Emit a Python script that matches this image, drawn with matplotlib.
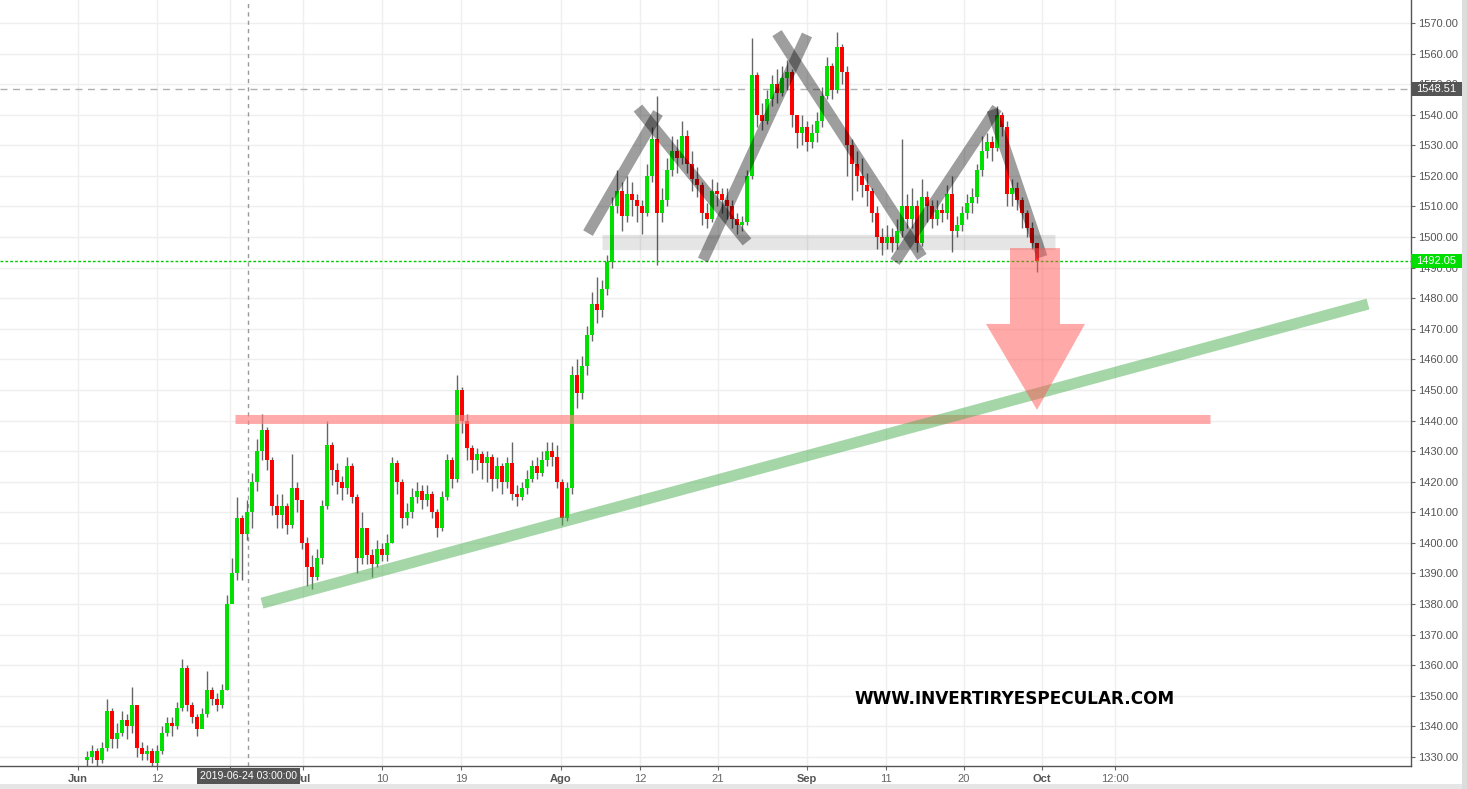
import numpy as np
import matplotlib
matplotlib.use("Agg")
import matplotlib.pyplot as plt
from matplotlib.patches import Polygon, Rectangle
import matplotlib.transforms as mtransforms

# ---------------- data ----------------
first_open = 1329.0
close = [1330, 1332, 1329, 1333, 1345, 1336, 1338, 1342, 1340, 1347,
         1333, 1331, 1332, 1328, 1332, 1338, 1341, 1340, 1346, 1359,
         1347, 1343, 1339, 1344, 1352, 1349, 1347, 1352, 1380, 1390,
         1408, 1403, 1410, 1420, 1430, 1437, 1427, 1412, 1409, 1412,
         1406, 1418, 1414, 1400, 1392, 1389, 1395, 1412, 1432, 1424,
         1420, 1418, 1425, 1415, 1395, 1405, 1396, 1393, 1398, 1396,
         1400, 1426, 1420, 1408, 1410, 1415, 1417, 1414, 1416, 1410,
         1405, 1415, 1427, 1421, 1450, 1440, 1431, 1427, 1429, 1426,
         1428, 1421, 1425, 1420, 1426, 1416, 1415, 1418, 1421, 1425,
         1423, 1427, 1430, 1428, 1420, 1408, 1418, 1455, 1449, 1458,
         1468, 1478, 1476, 1483, 1492, 1510, 1515, 1507, 1514, 1512,
         1510, 1508, 1520, 1532, 1508, 1512, 1522, 1528, 1526, 1533,
         1524, 1519, 1517, 1508, 1506, 1515, 1514, 1512, 1510, 1506,
         1504, 1505, 1520, 1553, 1540, 1538, 1545, 1550, 1547, 1552,
         1554, 1540, 1534, 1536, 1531, 1534, 1538, 1546, 1556, 1548,
         1562, 1554, 1530, 1524, 1520, 1517, 1515, 1508, 1500, 1498,
         1500, 1498, 1502, 1510, 1506, 1510, 1498, 1513, 1510, 1506,
         1509, 1508, 1514, 1502, 1504, 1508, 1511, 1513, 1522, 1528,
         1531, 1529, 1540, 1536, 1514, 1516, 1512, 1508, 1503, 1498,
         1492.05]
high = [1332, 1334, 1333, 1335, 1349, 1346, 1341, 1345, 1344, 1353,
        1347, 1335, 1334, 1333, 1334, 1340, 1343, 1343, 1348, 1362,
        1360, 1348, 1344, 1346, 1358, 1353, 1351, 1354, 1383, 1395,
        1415, 1409, 1414, 1423, 1434, 1442, 1438, 1428, 1416, 1416,
        1413, 1429, 1420, 1414, 1402, 1396, 1398, 1414, 1440, 1433,
        1426, 1422, 1428, 1426, 1416, 1410, 1405, 1398, 1401, 1400,
        1403, 1428, 1427, 1421, 1413, 1418, 1420, 1419, 1419, 1417,
        1411, 1417, 1429, 1428, 1455, 1451, 1442, 1432, 1431, 1430,
        1430, 1429, 1428, 1426, 1428, 1433, 1419, 1420, 1424, 1427,
        1428, 1430, 1433, 1433, 1432, 1421, 1420, 1458, 1460, 1461,
        1471, 1482, 1487, 1486, 1494, 1513, 1522, 1518, 1520, 1518,
        1514, 1512, 1524, 1536, 1546, 1516, 1526, 1533, 1532, 1538,
        1535, 1528, 1523, 1518, 1511, 1519, 1518, 1516, 1516, 1512,
        1508, 1507, 1522, 1565, 1554, 1544, 1548, 1553, 1555, 1556,
        1558, 1555, 1539, 1540, 1538, 1537, 1541, 1549, 1559, 1557,
        1567, 1563, 1556, 1532, 1528, 1526, 1521, 1516, 1510, 1503,
        1504, 1503, 1506, 1532, 1514, 1516, 1512, 1519, 1515, 1512,
        1512, 1511, 1517, 1520, 1507, 1510, 1514, 1516, 1524, 1533,
        1534, 1533, 1543, 1541, 1538, 1519, 1518, 1513, 1509, 1505,
        1498]
low = [1327, 1328, 1327, 1328, 1332, 1333, 1333, 1337, 1336, 1338,
       1330, 1329, 1329, 1326, 1327, 1331, 1337, 1337, 1339, 1345,
       1345, 1341, 1337, 1340, 1343, 1347, 1345, 1346, 1352, 1383,
       1388, 1388, 1401, 1405, 1417, 1427, 1424, 1409, 1405, 1405,
       1403, 1405, 1410, 1398, 1386, 1385, 1388, 1393, 1411, 1419,
       1416, 1414, 1416, 1413, 1390, 1393, 1393, 1389, 1392, 1394,
       1394, 1400, 1416, 1405, 1406, 1408, 1413, 1411, 1412, 1408,
       1402, 1404, 1414, 1418, 1420, 1436, 1427, 1423, 1424, 1421,
       1420, 1417, 1418, 1416, 1418, 1414, 1412, 1414, 1416, 1420,
       1421, 1422, 1425, 1425, 1418, 1406, 1407, 1416, 1444, 1447,
       1455, 1466, 1472, 1474, 1481, 1490, 1508, 1502, 1505, 1507,
       1505, 1501, 1507, 1518, 1491, 1505, 1510, 1520, 1521, 1524,
       1521, 1515, 1513, 1504, 1503, 1505, 1510, 1508, 1506, 1503,
       1501, 1502, 1504, 1519, 1536, 1535, 1537, 1543, 1544, 1546,
       1548, 1536, 1529, 1530, 1528, 1529, 1531, 1536, 1545, 1545,
       1547, 1550, 1520, 1512, 1515, 1513, 1510, 1505, 1496, 1494,
       1496, 1495, 1496, 1500, 1503, 1503, 1495, 1497, 1505, 1503,
       1504, 1505, 1506, 1495, 1500, 1502, 1506, 1508, 1511, 1520,
       1526, 1525, 1528, 1533, 1510, 1510, 1509, 1503, 1500, 1496,
       1488.5]

x_tick_pos = [-1.8, 14, 28.6, 43.2, 59, 74.8, 94.8, 110.6, 126.2, 144,
              159.8, 175.4, 191, 205.6]
x_tick_labels = ["Jun", "12", "", "Jul", "10", "19", "Ago", "12", "21",
                 "Sep", "11", "20", "Oct", "12:00"]
month_names = ["Jun", "Jul", "Ago", "Sep", "Oct"]
y_ticks = list(range(1330, 1571, 10))

last_price = 1492.05
ref_price = 1548.51
cross_x = 32.2
cross_label = "2019-06-24 03:00:00"

# drawn annotations (candle index, price)
resistance_level = 1440.5
resistance_span = (29.6, 224.6)
support_line = [(35.0, 1380.3), (256.2, 1478.1)]
neck_level = 1498.5
neck_span = (103.0, 193.6)
pattern_legs = [
    [(100.2, 1501.3), (114.2, 1540.6)],
    [(110.2, 1542.2), (132.0, 1498.4)],
    [(123.2, 1492.5), (144.0, 1566.1)],
    [(138.0, 1566.7), (167.0, 1493.5)],
    [(161.6, 1491.9), (182.0, 1542.2)],
    [(181.0, 1541.6), (191.0, 1493.5)],
]
arrow_pts = [(184.6, 1496.4), (194.6, 1496.4), (194.6, 1471.6), (199.6, 1471.6),
             (190.0, 1443.5), (179.8, 1471.6), (184.6, 1471.6)]
watermark = "WWW.INVERTIRYESPECULAR.COM"

# ---------------- figure ----------------
plt.rcParams['font.family'] = ['Liberation Sans', 'DejaVu Sans']
W, H = 1467, 789
fig = plt.figure(figsize=(W / 100, H / 100), dpi=100)
fig.patch.set_facecolor('white')
ax = fig.add_axes([0, 23 / H, 1411 / W, 766 / H])
ax.set_facecolor('white')
ax.set_xlim(-17.4, 264.8)
ax.set_ylim(1327.05, 1577.52)

for s in ['left', 'top']:
    ax.spines[s].set_visible(False)
for s in ['bottom', 'right']:
    ax.spines[s].set_color('#555555')
    ax.spines[s].set_linewidth(1)

ax.yaxis.tick_right()
ax.set_yticks(y_ticks)
ax.set_yticklabels([f"{v:.2f}" for v in y_ticks])
ax.tick_params(axis='y', length=3, color='#666666', labelcolor='#555555',
               labelsize=8, pad=2)
ax.set_xticks(x_tick_pos)
ax.set_xticklabels(x_tick_labels)
ax.tick_params(axis='x', length=3, color='#666666', labelcolor='#666666',
               labelsize=8, pad=3)
for t in ax.get_xticklabels():
    if t.get_text() in month_names:
        t.set_fontweight('bold')
        t.set_color('#555555')
ax.grid(True, color='#efefef', lw=1, zorder=0)
ax.set_axisbelow(True)

# candles
c = np.array(close, dtype=float)
h = np.array(high, dtype=float)
l = np.array(low, dtype=float)
o = np.concatenate([[first_open], c[:-1]])
idx = np.arange(len(c))
ax.vlines(idx, l, h, color='#666666', lw=1, zorder=2)
up = c >= o
body_bottom = np.minimum(o, c)
body_h = np.maximum(np.abs(c - o), 0.4)
ax.bar(idx[up], body_h[up], bottom=body_bottom[up], width=0.7,
       color='#00e000', edgecolor='none', zorder=3)
ax.bar(idx[~up], body_h[~up], bottom=body_bottom[~up], width=0.7,
       color='#ff0000', edgecolor='none', zorder=3)

# reference lines
ax.axvline(cross_x, color='#999999', lw=1, ls=(0, (3, 3)), zorder=1)
ax.axhline(ref_price, color='#b0b0b0', lw=1, ls=(0, (5, 4)), zorder=1)
ax.axhline(last_price, color='#00cc00', lw=1, ls=(0, (2, 1.5)), zorder=4)

# drawn annotations
ax.plot(resistance_span, [resistance_level] * 2, color='#ff7f7f', alpha=0.65,
        lw=6.5, solid_capstyle='butt', zorder=5)
ax.plot([p[0] for p in support_line], [p[1] for p in support_line],
        color='#4caf50', alpha=0.5, lw=8, solid_capstyle='butt', zorder=5)
ax.plot(neck_span, [neck_level] * 2, color='black', alpha=0.1, lw=11,
        solid_capstyle='butt', zorder=5)
for leg in pattern_legs:
    ax.plot([p[0] for p in leg], [p[1] for p in leg], color='black', alpha=0.38,
            lw=8, solid_capstyle='butt', zorder=6)
ax.add_patch(Polygon(arrow_pts, closed=True, fc='#ff5555', ec='none',
                     alpha=0.5, zorder=6))

# right axis price boxes
tr_y = mtransforms.blended_transform_factory(ax.transAxes, ax.transData)
bw = 51 / 1411
bh = 14 / 3.0583
for price, col in [(ref_price, '#555555'), (last_price, '#00dd00')]:
    ax.add_patch(Rectangle((1.0, price - bh / 2), bw, bh, transform=tr_y,
                           fc=col, ec='none', clip_on=False, zorder=10))
    ax.text(1.0 + bw / 2, price, f"{price:.2f}", transform=tr_y, ha='center',
            va='center', color='white', fontsize=8, clip_on=False, zorder=11)

# crosshair date box
tr_x = mtransforms.blended_transform_factory(ax.transData, ax.transAxes)
ax.add_patch(Rectangle((22.0, -18 / 766), 20.6, 16 / 766, transform=tr_x,
                       fc='#555555', ec='none', clip_on=False, zorder=10))
ax.text(cross_x + 0.1, -10 / 766, cross_label, transform=tr_x, ha='center',
        va='center', color='white', fontsize=7.6, clip_on=False, zorder=11)

# background bands
fig.patches.append(Rectangle((0, 0), 1, 5 / H, transform=fig.transFigure,
                             fc='#e6e6e6', ec='none', zorder=0))
fig.patches.append(Rectangle((1462 / W, 0), 5 / W, 1, transform=fig.transFigure,
                             fc='#dddddd', ec='none', zorder=0))

# watermark
fig.text(1015 / W, 1 - 699 / H, watermark, ha='center', va='center',
         fontsize=12.2, fontweight='bold', color='black',
         family=['DejaVu Sans'])

fig.savefig('out.png', dpi=100, facecolor='white')
